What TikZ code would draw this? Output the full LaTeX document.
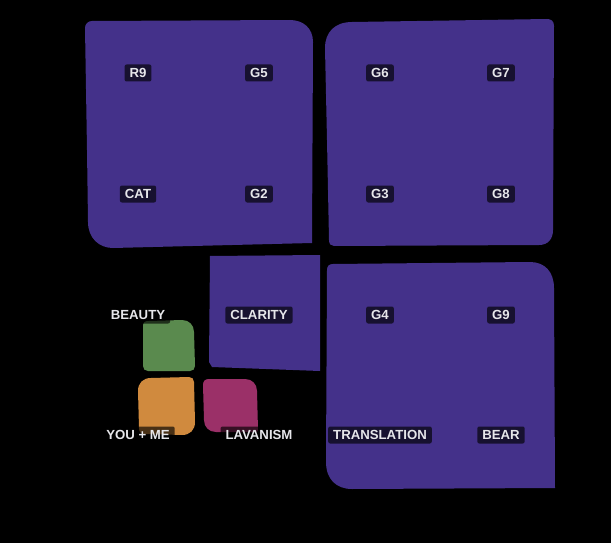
\documentclass[tikz,border=0pt]{standalone}
\usepackage{fontspec}
\setmainfont{Liberation Sans}
\definecolor{blob}{HTML}{44318A}
\definecolor{grn}{HTML}{5A8A4E}
\definecolor{orn}{HTML}{D08A3E}
\definecolor{mag}{HTML}{9B3068}
\definecolor{txt}{HTML}{E6E6EA}
\tikzset{
  lbl/.style={fill=black, fill opacity=0.65, text opacity=1, text=txt,
    font=\bfseries\fontsize{13.2}{15}\selectfont, inner xsep=5pt, inner ysep=0pt,
    minimum height=17pt, rounded corners=2pt},
  area/.style={fill=blob},
}
\begin{document}
\begin{tikzpicture}[x=1pt,y=-1pt]
\fill[black] (0,0) rectangle (611,543);
\useasboundingbox (0,0) rectangle (611,543);
% blobs
\fill[area] (85,28) .. controls (85,24) and (88,21) .. (92,21) -- (290,20)
  .. controls (303,20) and (313,28) .. (313,42) -- (312,243) -- (113,248)
  .. controls (99,248) and (88,238) .. (88,222) -- (87,150) -- cycle;
\fill[area] (325,48) .. controls (325,32) and (335,22) .. (352,22) -- (547,19)
  .. controls (551,19) and (554,21) .. (554,26) -- (553,230)
  .. controls (553,239) and (548,245) .. (539,245) -- (334,246)
  .. controls (331,246) and (329,244) .. (329,240) -- (327,140) -- cycle;
\fill[area] (210,256) -- (320,255) -- (320,371) -- (212,367) -- (209,362) -- cycle;
\fill[area] (327,270) .. controls (327,266) and (329,264) .. (333,264) -- (530,262)
  .. controls (545,262) and (554,272) .. (554,288) -- (555,488) -- (352,489)
  .. controls (336,489) and (326,479) .. (326,462) -- cycle;
\fill[grn] (143,326) .. controls (143,322) and (145,321) .. (149,321) -- (182,320)
  .. controls (189,320) and (194,325) .. (194,332) -- (195,366)
  .. controls (195,369) and (193,371) .. (190,371) -- (148,371)
  .. controls (145,371) and (143,369) .. (143,366) -- cycle;
\fill[orn] (138,391) .. controls (138,383) and (143,378) .. (151,378) -- (189,377)
  .. controls (192,377) and (194,379) .. (194,382) -- (195,422)
  .. controls (195,430) and (190,435) .. (182,435) -- (145,434)
  .. controls (141,434) and (139,432) .. (139,428) -- cycle;
\fill[mag] (203,385) .. controls (203,381) and (205,379) .. (209,379) -- (245,379)
  .. controls (252,379) and (257,384) .. (257,391) -- (258,430)
  .. controls (258,431) and (257,432) .. (256,432) -- (216,432)
  .. controls (209,432) and (204,427) .. (204,420) -- cycle;
% labels
\node[lbl] (r9) at (138,73) {R9};
\node[lbl] (g5) at (259,73) {G5};
\node[lbl] (g6) at (380,73) {G6};
\node[lbl] (g7) at (501,73) {G7};
\node[lbl] (cat) at (138,194) {CAT};
\node[lbl] (g2) at (259,194) {G2};
\node[lbl] (g3) at (380,194) {G3};
\node[lbl] (g8) at (501,194) {G8};
\node[lbl] (beauty) at (138,315) {BEAUTY};
\node[lbl] (clarity) at (259,315) {CLARITY};
\node[lbl] (g4) at (380,315) {G4};
\node[lbl] (g9) at (501,315) {G9};
\node[lbl] (youme) at (138,435) {YOU + ME};
\node[lbl] (lav) at (259,435) {LAVANISM};
\node[lbl] (trans) at (380,435) {TRANSLATION};
\node[lbl] (bear) at (501,435) {BEAR};
\end{tikzpicture}
\end{document}
